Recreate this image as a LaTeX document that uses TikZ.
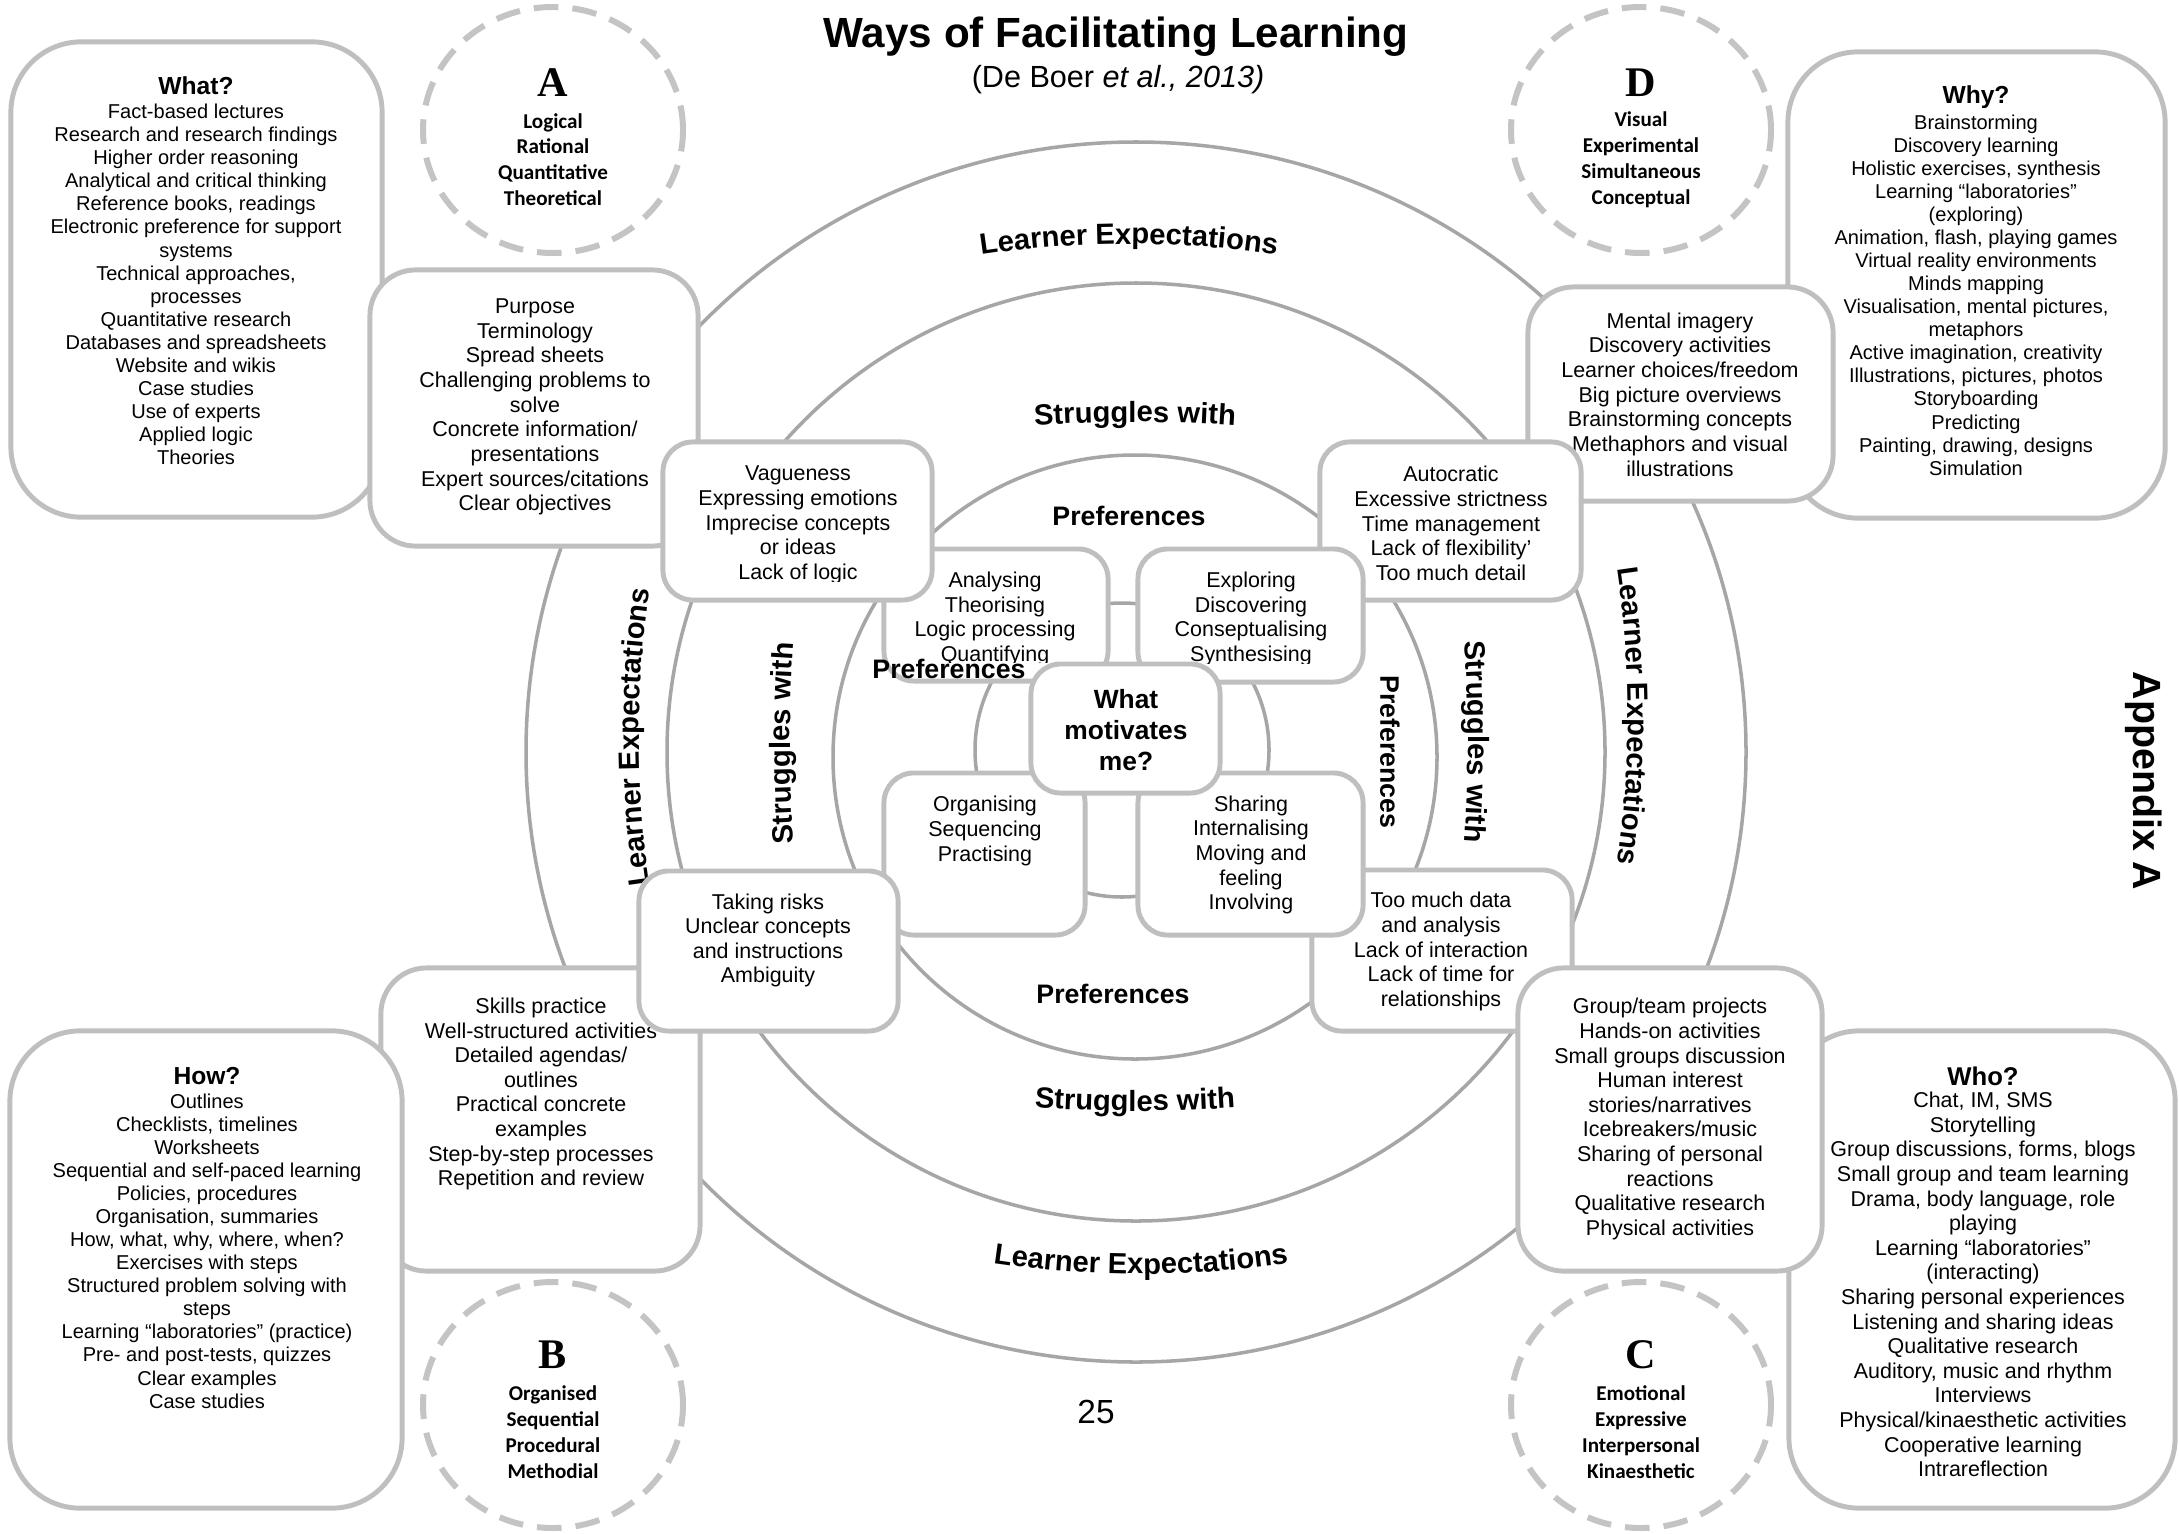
\documentclass[tikz,border=0pt]{standalone}
\usepackage{fontspec}
\setmainfont{Liberation Sans}
\newfontfamily\calfont{Carlito}
\newfontfamily\serfont{Liberation Serif}
\usetikzlibrary{decorations.text}
\definecolor{ringc}{HTML}{A6A6A6}
\definecolor{boxc}{HTML}{BFBFBF}
\definecolor{dashc}{HTML}{C4C4C4}
\newcommand\smalltxt{\fontsize{5.7}{6.56}\selectfont}
\newcommand\bodytxt{\fontsize{6.1}{7.0}\selectfont}
\newcommand\ringfont{\fontsize{8.3}{10}\selectfont\bfseries}
\tikzset{
  ring/.style={ringc,line width=1pt},
  dashring/.style={dashc,line width=1.7pt,dash pattern=on 7pt off 4pt},
  bigbox/.style={draw=boxc,fill=white,line width=1.4pt,rounded corners=20pt},
  midbox/.style={draw=boxc,fill=white,line width=1.4pt,rounded corners=13pt},
  smallbox/.style={draw=boxc,fill=white,line width=1.4pt,rounded corners=8.5pt},
  lst/.style={align=center,inner sep=0pt,font=\smalltxt},
  txt/.style={align=center,inner sep=0pt,font=\bodytxt},
  hd/.style={inner sep=0pt,font=\fontsize{7}{8}\selectfont\bfseries},
  typ/.style={align=center,inner sep=0pt,font=\calfont\bfseries\fontsize{6}{7.35}\selectfont},
  lett/.style={inner sep=0pt,font=\serfont\bfseries\fontsize{12}{14}\selectfont},
  pref/.style={inner sep=0pt,font=\fontsize{7.6}{9}\selectfont\bfseries},
  ringtxt/.style={decorate,decoration={text along path,text align=center,text={|\ringfont|#1}}},
}

\begin{document}
\begin{tikzpicture}[x=0.01cm,y=0.01cm]
  \useasboundingbox (0,0) rectangle (2179,-1533);
  \fill[white] (0,0) rectangle (2179,-1533);

  % rings
  \draw[ring] (1136,-752) circle[radius=610];
  \draw[ring] (1136,-752) circle[radius=469];
  \draw[ring] (1135,-757) circle[radius=302];
  \draw[ring] (1122,-750) circle[radius=147];

  % curved ring labels
  \path[ringtxt={Learner Expectations}] (1129,-244) ++(270:1000) ++(102:1000) arc[start angle=102,end angle=78,radius=1000];
  \path[ringtxt={Struggles with}] (1135,-422) ++(270:1500) ++(97:1500) arc[start angle=97,end angle=83,radius=1500];
  \path[ringtxt={Struggles with}] (1135,-1111) ++(90:1500) ++(263:1500) arc[start angle=263,end angle=277,radius=1500];
  \path[ringtxt={Learner Expectations}] (1141,-1274) ++(90:1000) ++(258:1000) arc[start angle=258,end angle=282,radius=1000];
  \path[ringtxt={Learner Expectations}] (639,-737) ++(0:1000) ++(192:1000) arc[start angle=192,end angle=168,radius=1000];
  \path[ringtxt={Struggles with}] (790,-743) ++(0:1500) ++(187:1500) arc[start angle=187,end angle=173,radius=1500];
  \path[ringtxt={Struggles with}] (1468,-742) ++(180:1500) ++(7:1500) arc[start angle=7,end angle=-7,radius=1500];
  \path[ringtxt={Learner Expectations}] (1628,-716) ++(180:1000) ++(12:1000) arc[start angle=12,end angle=-12,radius=1000];
  \node[pref] (preftop) at (1129,-516) {Preferences};
  \node[pref] (prefbot) at (1113,-994) {Preferences};
  \node[pref,rotate=-90] (prefright) at (1390,-752) {Preferences};

  % title
  \node[inner sep=0pt,font=\fontsize{12}{14}\selectfont\bfseries] (title) at (1116,-37) {Ways of Facilitating Learning};
  \node[inner sep=0pt,font=\fontsize{8.7}{10}\selectfont] (cite) at (1118,-80) {(De Boer \textit{et al., 2013)}};
  \node[inner sep=0pt,font=\fontsize{11.2}{13}\selectfont\bfseries,rotate=-90] (app) at (2144,-781) {Appendix A};
  \node[inner sep=0pt,font=\fontsize{9.5}{11}\selectfont] (page) at (1096,-1412) {25};

  % dashed type circles
  \draw[dashring] (553,-130) ellipse[x radius=130,y radius=123];
  \draw[dashring] (1641,-130) ellipse[x radius=130,y radius=123];
  \draw[dashring] (553,-1405) ellipse[x radius=130,y radius=123];
  \draw[dashring] (1641,-1405) ellipse[x radius=130,y radius=123];
  \node[lett] (la) at (553,-83) {A};
  \node[lett] (ld) at (1641,-83) {D};
  \node[lett] (lb) at (553,-1355) {B};
  \node[lett] (lc) at (1641,-1355) {C};
  \node[typ] (ta) at (553,-159.5) {Logical\\Rational\\Quantitative\\Theoretical};
  \node[typ] (td) at (1641,-159.5) {Visual\\Experimental\\Simultaneous\\Conceptual};
  \node[typ] (tb) at (553,-1432) {Organised\\Sequential\\Procedural\\Methodial};
  \node[typ] (tc) at (1641,-1432) {Emotional\\Expressive\\Interpersonal\\Kinaesthetic};

  % outer boxes
  \node[bigbox,minimum width=3.71cm,minimum height=4.75cm] (what) at (196.5,-279.5) {};
  \node[hd] (whathd) at (196,-86) {What?};
  \node[lst] (whatl) at (196,-284.5) {Fact-based lectures\\Research and research findings\\Higher order reasoning\\Analytical and critical thinking\\Reference books, readings\\Electronic preference for support\\systems\\Technical approaches,\\processes\\Quantitative research\\Databases and spreadsheets\\Website and wikis\\Case studies\\Use of experts\\Applied logic\\Theories};

  \node[bigbox,minimum width=3.77cm,minimum height=4.66cm] (why) at (1976.5,-285) {};
  \node[hd] (whyhd) at (1976,-97) {Why?};
  \node[lst] (whyl) at (1976,-295) {Brainstorming\\Discovery learning\\Holistic exercises, synthesis\\Learning “laboratories”\\(exploring)\\Animation, flash, playing games\\Virtual reality environments\\Minds mapping\\Visualisation, mental pictures,\\metaphors\\Active imagination, creativity\\Illustrations, pictures, photos\\Storyboarding\\Predicting\\Painting, drawing, designs\\Simulation};

  \node[bigbox,minimum width=3.86cm,minimum height=4.77cm] (who) at (1982,-1269.5) {};
  \node[hd,font=\fontsize{7.3}{8}\selectfont\bfseries] (whohd) at (1983,-1076) {Who?};
  \node[txt] (whol) at (1983,-1284.5) {Chat, IM, SMS\\Storytelling\\Group discussions, forms, blogs\\Small group and team learning\\Drama, body language, role\\playing\\Learning “laboratories”\\(interacting)\\Sharing personal experiences\\Listening and sharing ideas\\Qualitative research\\Auditory, music and rhythm\\Interviews\\Physical/kinaesthetic activities\\Cooperative learning\\Intrareflection};

  % middle boxes
  \node[midbox,minimum width=3.19cm,minimum height=3.03cm] (skills) at (540.5,-1119.5) {};
  \node[txt] (skillst) at (541,-1094) {Skills practice\\Well-structured activities\\Detailed agendas/\\outlines\\Practical concrete\\examples\\Step-by-step processes\\Repetition and review};

  \node[bigbox,minimum width=3.92cm,minimum height=4.77cm] (how) at (206,-1269.5) {};
  \node[hd] (howhd) at (207,-1076) {How?};
  \node[lst] (howl) at (207,-1251) {Outlines\\Checklists, timelines\\Worksheets\\Sequential and self-paced learning\\Policies, procedures\\Organisation, summaries\\How, what, why, where, when?\\Exercises with steps\\Structured problem solving with\\steps\\Learning “laboratories” (practice)\\Pre- and post-tests, quizzes\\Clear examples\\Case studies};

  \node[midbox,minimum width=3.28cm,minimum height=2.76cm] (purp) at (534,-408) {};
  \node[txt] (purpt) at (535,-407) {Purpose\\Terminology\\Spread sheets\\Challenging problems to\\solve\\Concrete information/\\presentations\\Expert sources/citations\\Clear objectives};

  \node[midbox,minimum width=3.05cm,minimum height=2.14cm] (ment) at (1680.5,-394) {};
  \node[txt] (mentt) at (1680,-394.5) {Mental imagery\\Discovery activities\\Learner choices/freedom\\Big picture overviews\\Brainstorming concepts\\Methaphors and visual\\illustrations};

  \node[smallbox,minimum width=2.60cm,minimum height=1.61cm] (much) at (1442,-950.5) {};
  \node[txt] (mucht) at (1441,-951.5) {Too much data\\and analysis\\Lack of interaction\\Lack of time for\\relationships};

  \node[midbox,minimum width=3.04cm,minimum height=3.03cm] (group) at (1670,-1119.5) {};
  \node[txt] (groupt) at (1670,-1119) {Group/team projects\\Hands-on activities\\Small groups discussion\\Human interest\\stories/narratives\\Icebreakers/music\\Sharing of personal\\reactions\\Qualitative research\\Physical activities};

  % inner boxes
  \node[smallbox,minimum width=2.61cm,minimum height=1.58cm] (auto) at (1450.5,-521) {};
  \node[txt] (autot) at (1451,-523.5) {Autocratic\\Excessive strictness\\Time management\\Lack of flexibility’\\Too much detail};

  \node[smallbox,minimum width=2.24cm,minimum height=1.32cm] (anal) at (996,-615) {};
  \begin{scope}
    \clip (884,-549) rectangle (1108,-662);
    \node[txt] (analt) at (995,-619) {Analysing\\Theorising\\Logic processing\\Quantifying};
  \end{scope}

  \node[smallbox,minimum width=2.01cm,minimum height=1.62cm] (orga) at (984.5,-854) {};
  \node[txt] (orgat) at (985,-831) {Organising\\Sequencing\\Practising};

  \node[smallbox,minimum width=2.25cm,minimum height=1.33cm] (expl) at (1250.5,-615.5) {};
  \begin{scope}
    \clip (1138,-549) rectangle (1363,-663);
    \node[txt] (explt) at (1251,-619) {Exploring\\Discovering\\Conseptualising\\Synthesising};
  \end{scope}

  \node[smallbox,minimum width=2.25cm,minimum height=1.62cm] (shar) at (1250.5,-854) {};
  \node[txt] (shart) at (1251,-855) {Sharing\\Internalising\\Moving and\\feeling\\Involving};

  \node[smallbox,minimum width=2.69cm,minimum height=1.58cm] (vag) at (797.5,-521) {};
  \begin{scope}
    \clip (663,-442) rectangle (932,-581);
    \node[txt] (vagt) at (798,-525) {Vagueness\\Expressing emotions\\Imprecise concepts\\or ideas\\Lack of logic};
  \end{scope}

  \node[smallbox,minimum width=2.59cm,minimum height=1.60cm] (risk) at (768.5,-951) {};
  \node[txt] (riskt) at (768,-940.5) {Taking risks\\Unclear concepts\\and instructions\\Ambiguity};

  % centre
  \node[smallbox,minimum width=1.89cm,minimum height=1.29cm] (mot) at (1125.5,-728.5) {};
  \node[align=center,inner sep=0pt,font=\fontsize{7.5}{8.7}\selectfont\bfseries] (mott) at (1126,-730) {What\\motivates\\me?};
  \node[pref] (prefleft) at (949,-669) {Preferences};
\end{tikzpicture}
\end{document}
